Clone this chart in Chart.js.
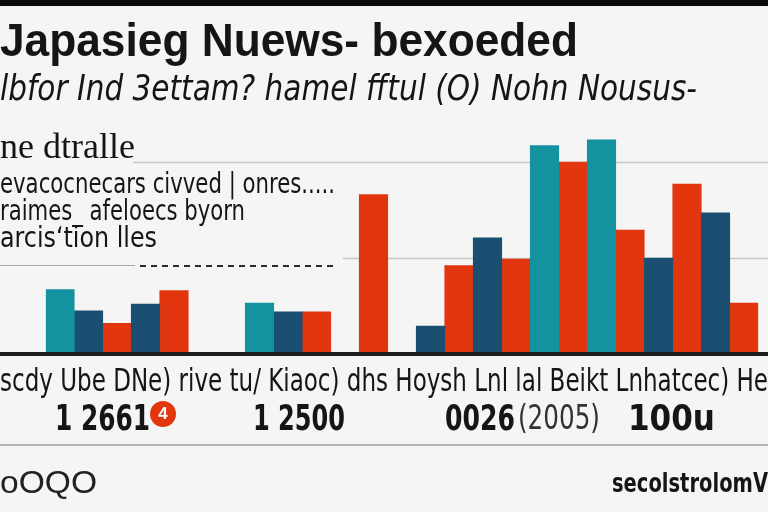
<!DOCTYPE html>
<html>
<head>
<meta charset="utf-8">
<script src="https://cdn.jsdelivr.net/npm/chart.js@4.4.1/dist/chart.umd.min.js"></script>
<style>
  html, body { margin: 0; padding: 0; }
  body {
    width: 768px; height: 512px; overflow: hidden; position: relative;
    background: #f5f5f5; font-family: "Liberation Sans", Arial, sans-serif; color: #151515;
  }
  #chart { position: absolute; left: 0; top: 0; }
  .topbar { position: absolute; left: 0; top: 0; width: 768px; height: 6px; background: #0b0b0b; }
  .t { position: absolute; white-space: nowrap; display: inline-block; transform-origin: 0 0; line-height: 1; }
  .narrow { font-family: "Liberation Sans Narrow", "DejaVu Sans Condensed", "Liberation Sans", sans-serif; }
  .rule { position: absolute; height: 0; }
  .badge {
    position: absolute; left: 150px; top: 401px; width: 26px; height: 26px; border-radius: 50%;
    background: #e2360f; color: #fff; font: bold 17px "Liberation Sans", sans-serif;
    text-align: center; line-height: 26px;
  }
</style>
</head>
<body>
<div class="topbar"></div>
<canvas id="chart" width="768" height="512"></canvas>

<div class="t" style="left:0;top:16px;font-size:47px;font-weight:bold" data-w="578">Japasieg Nuews- bexoeded</div>
<div class="t narrow" style="left:0;top:70px;font-size:36px;font-style:italic" data-w="697">lbfor Ind 3ettam? hamel fftul (O) Nohn Nousus-</div>
<div class="t" style="left:0;top:128px;font-size:36px;font-family:'Liberation Serif',serif" data-w="135">ne dtralle</div>
<div class="t narrow" style="left:0;top:170px;font-size:28px" data-w="335">evacocnecars civved | onres.....</div>
<div class="t narrow" style="left:0;top:197px;font-size:28px" data-w="245">raimes_ afeloecs byorn</div>
<div class="t narrow" style="left:0;top:224px;font-size:28px" data-w="157">arcisʻtion lles</div>

<div class="rule" style="left:0;top:265px;width:135px;border-top:1.5px solid #a8a8a8"></div>
<div class="rule" style="left:140px;top:265px;width:196px;height:2px;background:repeating-linear-gradient(to right,#2a2a2a 0 6px,transparent 6px 11px)"></div>

<div class="t narrow" style="left:0;top:364px;font-size:32px" data-w="768">scdy Ube DNe) rive tu/ Kiaoc) dhs Hoysh Lnl lal Beikt Lnhatcec) He</div>
<div class="t narrow" style="left:55px;top:400px;font-size:36px;font-weight:bold" data-w="95">1 2661</div>
<div class="badge">4</div>
<div class="t narrow" style="left:253px;top:400px;font-size:36px;font-weight:bold" data-w="92">1 2500</div>
<div class="t narrow" style="left:445px;top:400px;font-size:36px;font-weight:bold" data-w="70">0026</div>
<div class="t narrow" style="left:518px;top:400px;font-size:34px;font-weight:normal;color:#333" data-w="82">(2005)</div>
<div class="t narrow" style="left:628px;top:400px;font-size:36px;font-weight:bold" data-w="87">100u</div>

<div class="rule" style="left:0;top:444px;width:768px;border-top:2px solid #b4b4b4"></div>
<div class="t" style="left:0;top:466px;font-size:32px;font-weight:normal;color:#222" data-w="97">oOQO</div>
<div class="t narrow" style="left:612px;top:469px;font-size:27px;font-weight:bold" data-w="156">secolstrolomV</div>

<script>
"use strict";

const CATEGORIES = [
  "A1", "A2", "A3", "A4", "A5", "A6", "A7",
  "B1", "B2", "B3", "B4", "B5", "B6",
  "C1", "C2", "C3", "C4", "C5", "C6", "C7", "C8", "C9", "C10", "C11", "C12",
];

const TEAL_VALUES = [
  67, null, null, null, null, null, null,
  53, null, null, null, null, null,
  null, null, null, null, 217, null, 223, null, null, null, null, null,
];

const NAVY_VALUES = [
  null, 45, null, 52, null, null, null,
  null, 44, null, null, null, null,
  29, null, 121, null, null, null, null, null, 100, null, 147, null,
];

const RED_VALUES = [
  null, null, 32, null, 66, null, null,
  null, null, 44, null, 166, null,
  null, 92, null, 99, null, 200, null, 129, null, 177, null, 53,
];

const Y_TICKS = [0, 100, 200];

const COLORS = { teal: "#1592a0", navy: "#1a4f72", red: "#e2360f" };

// horizontal rules: gridlines start where the text block ends, baseline runs full width
const rulesPlugin = {
  id: "rules",
  beforeDatasetsDraw(chart) {
    const { ctx, width } = chart;
    const y = chart.scales.y;
    const starts = { 100: 343, 200: 133 };
    ctx.save();
    ctx.strokeStyle = "#c6c6c6";
    ctx.lineWidth = 1.5;
    y.ticks.forEach((t) => {
      if (t.value === 0) return;
      const py = Math.round(y.getPixelForValue(t.value)) + 0.5;
      ctx.beginPath();
      ctx.moveTo(starts[t.value] || 0, py);
      ctx.lineTo(width, py);
      ctx.stroke();
    });
    ctx.restore();
  },
  afterDatasetsDraw(chart) {
    const { ctx, width } = chart;
    const py = chart.scales.y.getPixelForValue(0);
    ctx.save();
    ctx.fillStyle = "#1c1c1c";
    ctx.fillRect(0, py - 2, width, 4);
    ctx.restore();
  },
};

const base = {
  borderWidth: 0,
  categoryPercentage: 1,
  barPercentage: 1,
  skipNull: true,
};

new Chart(document.getElementById("chart"), {
  type: "bar",
  plugins: [rulesPlugin],
  data: {
    labels: CATEGORIES,
    datasets: [
      { ...base, label: "teal", data: TEAL_VALUES, backgroundColor: COLORS.teal },
      { ...base, label: "navy", data: NAVY_VALUES, backgroundColor: COLORS.navy },
      { ...base, label: "red", data: RED_VALUES, backgroundColor: COLORS.red },
    ],
  },
  options: {
    responsive: false,
    animation: false,
    devicePixelRatio: 1,
    layout: { padding: { left: 45.75, right: 9.75, top: 123.6, bottom: 158 } },
    plugins: { legend: { display: false }, tooltip: { enabled: false } },
    scales: {
      x: { display: false, grid: { display: false } },
      y: {
        display: false,
        min: 0,
        max: 240,
        afterBuildTicks: (scale) => {
          scale.ticks = Y_TICKS.map((v) => ({ value: v }));
        },
      },
    },
  },
});

// squeeze each text run to the width it has in the picture
document.querySelectorAll("[data-w]").forEach((el) => {
  const w = el.getBoundingClientRect().width;
  const target = Number(el.dataset.w);
  if (w > 0) el.style.transform = `scaleX(${target / w})`;
});
</script>
</body>
</html>
